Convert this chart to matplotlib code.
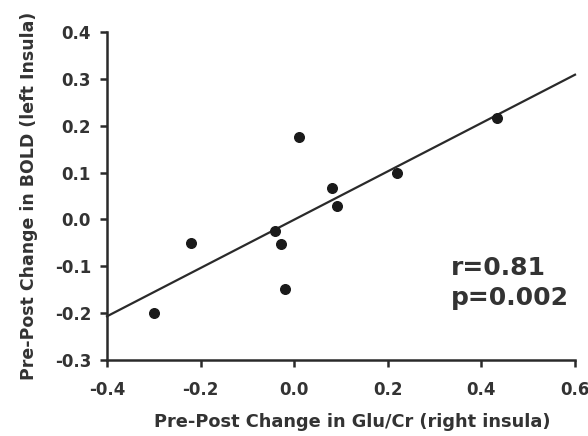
import numpy as np
import matplotlib
matplotlib.use("Agg")
import matplotlib.pyplot as plt

plt.rcParams['font.family'] = ['DejaVu Sans']

glu_change = [-0.30, -0.22, -0.04, -0.028, -0.02, 0.01, 0.081, 0.091, 0.22, 0.433]
bold_change = [-0.20, -0.05, -0.025, -0.053, -0.148, 0.176, 0.067, 0.029, 0.099, 0.217]
x_ticks = [-0.4, -0.2, 0.0, 0.2, 0.4, 0.6]
y_ticks = [-0.3, -0.2, -0.1, 0.0, 0.1, 0.2, 0.3, 0.4]
stats_lines = ["r=0.81", "p=0.002"]

col = '#2a2a2a'
tcol = '#333333'
fig = plt.figure(figsize=(5.88, 4.36), dpi=100)
ax = fig.add_axes([107/588, 1-360/436, (575-107)/588, (360-32)/436])

slope, intercept = np.polyfit(glu_change, bold_change, 1)
lx = np.array([-0.4, 0.6])
ax.plot(lx, slope*lx + intercept, color=col, lw=1.6, zorder=2, clip_on=False)
ax.scatter(glu_change, bold_change, s=48, color='#1a1a1a', zorder=3, clip_on=False)

ax.set_xlim(-0.4, 0.6)
ax.set_ylim(-0.3, 0.4)
ax.set_xticks(x_ticks)
ax.set_yticks(y_ticks)
ax.set_xticklabels([f"{t:.1f}" for t in x_ticks])
ax.set_yticklabels([f"{t:.1f}" for t in y_ticks])
for s in ['top', 'right']:
    ax.spines[s].set_visible(False)
for s in ['left', 'bottom']:
    ax.spines[s].set_linewidth(1.8)
    ax.spines[s].set_color(col)
ax.tick_params(direction='out', length=5, width=1.8, color=col, labelsize=12, labelcolor=tcol)
ax.tick_params(axis='x', pad=10)
ax.tick_params(axis='y', pad=6.5)
for lab in ax.get_xticklabels() + ax.get_yticklabels():
    lab.set_fontweight('bold')

ax.set_xlabel("Pre-Post Change in Glu/Cr (right insula)", fontsize=12.8, fontweight='bold', color=tcol, labelpad=10)
ax.xaxis.label.set_x(0.523)
ax.set_ylabel("Pre-Post Change in BOLD (left Insula)", fontsize=12.5, fontweight='bold', color=tcol, labelpad=12)

for txt, yv in zip(stats_lines, [-0.118, -0.182]):
    ax.text(0.335, yv, txt, fontsize=18, fontweight='bold', color=tcol, ha='left', va='baseline')

fig.savefig("out.png", dpi=100)
